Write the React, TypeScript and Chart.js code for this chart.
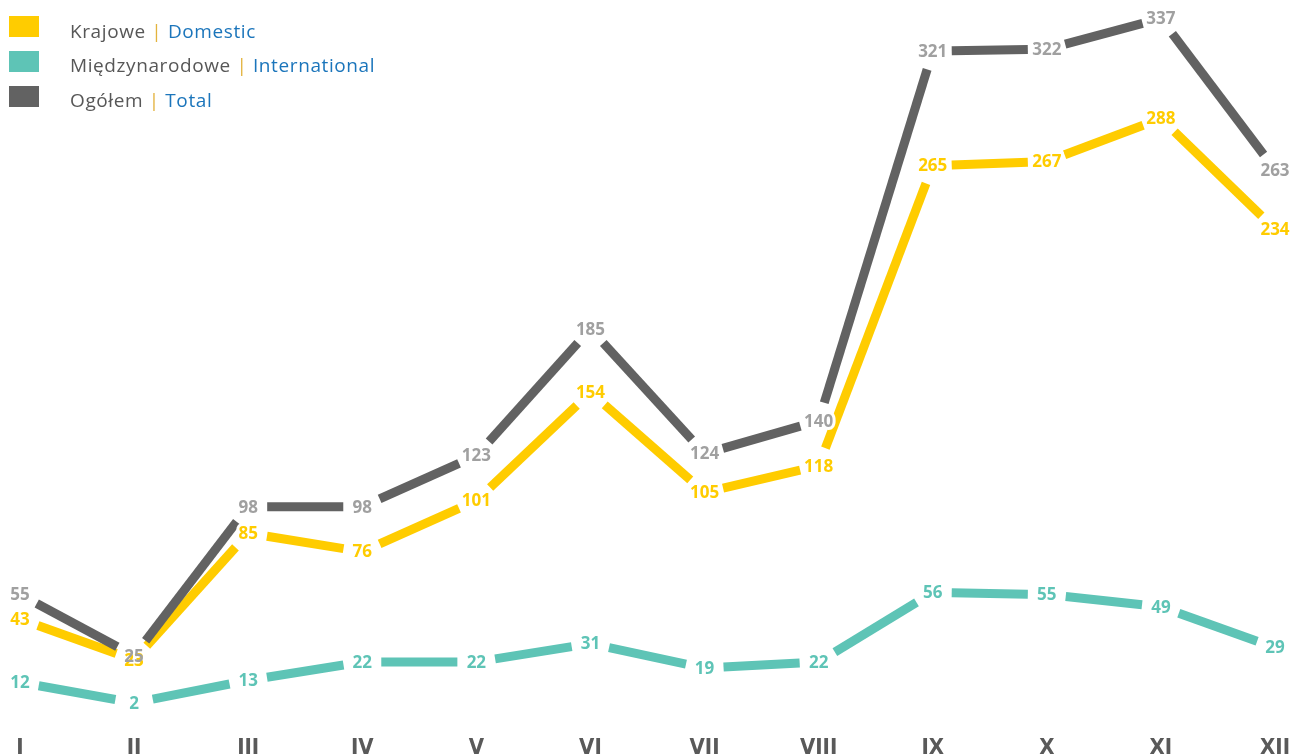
import React, { useEffect, useRef } from "react";
import { Chart, registerables } from "chart.js";

Chart.register(...registerables);

const months = ["I", "II", "III", "IV", "V", "VI", "VII", "VIII", "IX", "X", "XI", "XII"];
const domestic = [43, 23, 85, 76, 101, 154, 105, 118, 265, 267, 288, 234];
const international = [12, 2, 13, 22, 22, 31, 19, 22, 56, 55, 49, 29];
const total = [55, 25, 98, 98, 123, 185, 124, 140, 321, 322, 337, 263];

const legendPl = ["Krajowe", "Międzynarodowe", "Ogółem"];
const legendEn = ["Domestic", "International", "Total"];

const YELLOW = "#FFCC00";
const TEAL = "#5EC4B6";
const DARK = "#626262";
const GRAYLABEL = "#A0A0A0";

const seriesPlugin = {
  id: "segmentsAndLabels",
  afterDatasetsDraw(chart: any) {
    const ctx = chart.ctx;
    const drawOrder = [1, 0, 2];
    const GAP = 19;
    ctx.save();
    for (const di of drawOrder) {
      const ds = chart.data.datasets[di];
      const meta = chart.getDatasetMeta(di);
      ctx.strokeStyle = ds.lineColor;
      ctx.lineWidth = 9;
      ctx.lineCap = "butt";
      for (let i = 0; i < meta.data.length - 1; i++) {
        const p = meta.data[i];
        const q = meta.data[i + 1];
        const dx = q.x - p.x;
        const dy = q.y - p.y;
        const len = Math.hypot(dx, dy);
        if (len <= GAP * 2) continue;
        const ux = dx / len;
        const uy = dy / len;
        ctx.beginPath();
        ctx.moveTo(p.x + ux * GAP, p.y + uy * GAP);
        ctx.lineTo(q.x - ux * GAP, q.y - uy * GAP);
        ctx.stroke();
      }
    }
    ctx.font = "bold 17px 'Open Sans'";
    ctx.textAlign = "center";
    ctx.textBaseline = "middle";
    ctx.lineJoin = "round";
    for (const di of drawOrder) {
      const ds = chart.data.datasets[di];
      const meta = chart.getDatasetMeta(di);
      ctx.strokeStyle = "#ffffff";
      ctx.lineWidth = 6;
      meta.data.forEach((pt: any, i: number) => {
        ctx.strokeText(String(ds.data[i]), pt.x, pt.y + 1);
      });
    }
    for (const di of drawOrder) {
      const ds = chart.data.datasets[di];
      const meta = chart.getDatasetMeta(di);
      ctx.fillStyle = ds.labelColor;
      meta.data.forEach((pt: any, i: number) => {
        ctx.fillText(String(ds.data[i]), pt.x, pt.y + 1);
      });
    }
    ctx.restore();
  },
  afterDraw(chart: any) {
    const ctx = chart.ctx;
    ctx.save();
    const colors = [YELLOW, TEAL, DARK];
    const rectTops = [16, 51, 86];
    const baselines = [37.5, 72, 106.5];
    ctx.font = "19px 'Open Sans'";
    try { (ctx as any).letterSpacing = "0.6px"; } catch (e) {}
    ctx.textBaseline = "alphabetic";
    ctx.textAlign = "left";
    for (let i = 0; i < 3; i++) {
      ctx.fillStyle = colors[i];
      ctx.fillRect(9, rectTops[i], 30, 21);
      let x = 70;
      const pl = legendPl[i] + " ";
      ctx.fillStyle = "#575757";
      ctx.fillText(pl, x, baselines[i]);
      x += ctx.measureText(pl).width;
      ctx.fillStyle = "#E3B33E";
      ctx.fillText("|", x, baselines[i]);
      x += ctx.measureText("| ").width;
      ctx.fillStyle = "#1B75BB";
      ctx.fillText(legendEn[i], x, baselines[i]);
    }
    ctx.restore();
  },
};

export default function App() {
  const ref = useRef<HTMLCanvasElement | null>(null);
  useEffect(() => {
    if (!ref.current) return;
    const chart = new Chart(ref.current, {
      type: "line",
      data: {
        labels: months,
        datasets: [
          { label: "Krajowe | Domestic", data: domestic, lineColor: YELLOW, labelColor: YELLOW, showLine: false, pointRadius: 0, pointHoverRadius: 0 } as any,
          { label: "Międzynarodowe | International", data: international, lineColor: TEAL, labelColor: TEAL, showLine: false, pointRadius: 0, pointHoverRadius: 0 } as any,
          { label: "Ogółem | Total", data: total, lineColor: DARK, labelColor: GRAYLABEL, showLine: false, pointRadius: 0, pointHoverRadius: 0 } as any,
        ],
      },
      options: {
        animation: false,
        responsive: false,
        events: [],
        layout: { padding: { left: 20, right: 12, top: 0, bottom: -9 } },
        plugins: { legend: { display: false }, tooltip: { enabled: false } },
        scales: {
          x: {
            type: "category",
            offset: false,
            grid: { display: false, drawTicks: false },
            border: { display: false },
            ticks: {
              color: "#595959",
              padding: 3,
              autoSkip: false,
              maxRotation: 0,
              font: { family: "'Liberation Sans Narrow', 'DejaVu Sans Condensed', sans-serif", size: 22, weight: "bold" },
            },
          },
          y: { display: false, min: -12.1, max: 346.06 },
        },
      },
      plugins: [seriesPlugin],
    });
    return () => chart.destroy();
  }, []);
  return (
    <div style={{ position: "absolute", left: 0, top: 0, width: 1293, height: 755, background: "#fff" }}>
      <canvas ref={ref} width={1293} height={755} style={{ display: "block" }} />
    </div>
  );
}
